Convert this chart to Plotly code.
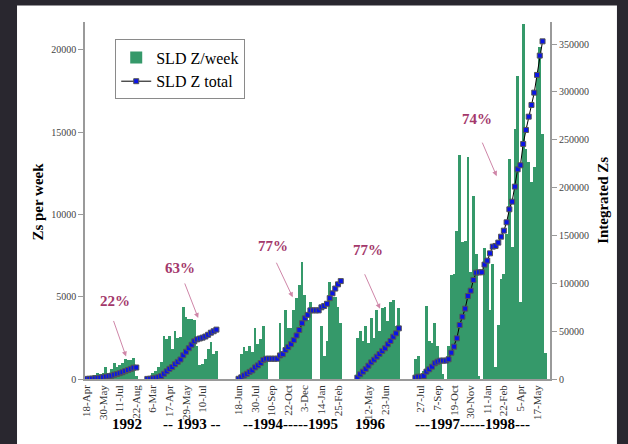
import pandas as pd
import plotly.graph_objects as go

# Observing seasons: first week of each run and the empty weeks left before it on the axis
season_start = ["1992-04-18", "1993-02-20", "1994-06-18", "1996-04-14", "1997-07-13"]
season_gap_weeks = [0, 3, 7, 5, 5]

# SLD Zs per week
zweek_1992 = [100, 150, 200, 250, 350, 300, 350, 750, 350, 600, 1000, 750, 850, 1000,
              1200, 1150, 1150, 1250, 200]
zweek_1993 = [100, 200, 350, 500, 750, 1050, 2600, 2450, 2600, 1850, 2900, 2500, 2550,
              4350, 3750, 3650, 3650, 3600, 2000, 850, 900, 1200, 1800, 2250, 1500, 1700]
zweek_1994 = [150, 1550, 1950, 1700, 2000, 1650, 3100, 2100, 2450, 3200, 1300, 0, 0, 0, 0,
              3400, 1400, 4200, 3100, 3100, 4200, 4900, 5700, 7100, 5100, 3600, 4700, 0, 0, 0,
              3200, 1400, 2300, 5900, 5000, 5000, 4400, 3400]
zweek_1996 = [2500, 2900, 2300, 3200, 2200, 3700, 2500, 4200, 2900, 4300, 4400, 3500, 4700,
              4800, 3200, 4300]
zweek_1997 = [1200, 1400, 250, 500, 4450, 2300, 2200, 3400, 2000, 1200, 300, 0,
              2000, 6300, 6400, 9000, 13600, 8300, 8400, 13500, 6500, 11150, 7600, 200,
              0, 7990, 7260, 4200, 7000, 700, 3300, 6100, 6400, 8800, 13400, 8000,
              15200, 18400, 4700, 21600, 14000, 13200, 12000, 12900, 18500, 20200, 14900, 1560]

# SLD Z running total within each season
ztot_1992 = [100, 250, 450, 700, 1050, 1400, 1750, 2500, 2850, 3450, 4450, 5200, 6050,
             7050, 8250, 9400, 10550, 11800, 12000]
ztot_1993 = [100, 300, 700, 1200, 1900, 3000, 5500, 8000, 10600, 12500, 15400, 17900, 20400,
             24800, 28500, 32200, 35800, 39400, 41400, 42300, 43200, 44400, 46200, 48400,
             49900, 51600]
ztot_1994 = [200, 1700, 3700, 5400, 7400, 9000, 12100, 14200, 16700, 19900, 21200, 21200,
             21200, 21200, 21200, 24600, 26000, 30200, 33300, 36400, 40600, 45500, 51200,
             58300, 63400, 67000, 71700, 71700, 71700, 71700, 74900, 76300, 78600, 84500,
             89500, 94500, 98900, 102300]
ztot_1996 = [1400, 4900, 7700, 10500, 13900, 17400, 20200, 23300, 26100, 29300, 32100,
             36200, 39700, 44200, 47700, 52900]
ztot_1997 = [1400, 2400, 2400, 3100, 7700, 10100, 12900, 16400, 18100, 19200, 19200, 19200,
             20600, 27500, 33800, 42500, 56400, 65100, 73500, 86700, 92300, 103500, 111100,
             111500, 111500, 119500, 123700, 131300, 138300, 139000, 142500, 148700, 155000,
             163700, 177300, 185300, 201000, 219100, 223300, 245600, 260200, 274100, 286300,
             299200, 317700, 337900, 352800]

tick_dates = ["1992-04-18", "1992-05-30", "1992-07-11", "1992-08-22",
              "1993-03-06", "1993-04-17", "1993-05-29", "1993-07-10",
              "1994-06-18", "1994-07-30", "1994-09-10", "1994-10-22", "1994-12-03",
              "1995-01-14", "1995-02-25",
              "1996-05-12", "1996-06-23",
              "1997-07-27", "1997-09-07", "1997-10-19", "1997-11-30",
              "1998-01-11", "1998-02-22", "1998-04-05", "1998-05-17"]
season_labels = ["1992", "-- 1993 --", "--1994-----1995", "1996", "---1997-----1998---"]
pct_labels = ["22%", "63%", "77%", "77%", "74%"]

weekly = [zweek_1992, zweek_1993, zweek_1994, zweek_1996, zweek_1997]
totals = [ztot_1992, ztot_1993, ztot_1994, ztot_1996, ztot_1997]

# Lay the seasons side by side on a compressed week axis
bar_x, bar_y, line_x, line_y, offsets = [], [], [], [], []
pos = 0
for gap, wk, tot in zip(season_gap_weeks, weekly, totals):
    pos += gap
    offsets.append(pos)
    for i, v in enumerate(wk):
        bar_x.append(pos + i)
        bar_y.append(v)
    for i, v in enumerate(tot):
        line_x.append(pos + i)
        line_y.append(v)
    line_x.append(None)
    line_y.append(None)
    pos += len(wk)

starts = pd.to_datetime(season_start)
tick_pos, tick_text = [], []
for d in pd.to_datetime(tick_dates):
    for s, off, wk in zip(starts, offsets, weekly):
        k = (d - s).days // 7
        if 0 <= k < len(wk):
            tick_pos.append(off + k)
            tick_text.append(f"{d.day}-{d:%b}")
            break

SERIF = "Liberation Serif"
AXIS_GREY = "#9a9a9a"
PCT_COLOR = "#a3386b"
ARROW_COLOR = "#cf86a8"

fig = go.Figure()
fig.add_trace(go.Bar(
    x=bar_x, y=bar_y, name="SLD Z/week",
    marker=dict(color="#35996a", line=dict(width=0)),
    yaxis="y",
))
fig.add_trace(go.Scatter(
    x=line_x, y=line_y, name="SLD Z total", mode="lines+markers",
    line=dict(color="black", width=1),
    marker=dict(symbol="square", size=5, color="#0a14e6",
                line=dict(color="#555555", width=1)),
    connectgaps=False, yaxis="y2",
))

annotations = []
# percentage call-outs with their arrows
pct_text_xy = [(10.3, 4730), (34.0, 6720), (67.3, 8060), (101.7, 7830), (141.3, 15800)]
pct_head_xy = [(14.3, 1370), (40.4, 3710), (74.6, 4970), (106.2, 4270), (148.4, 12330)]
pct_tail = [(-13, -37), (-14, -36), (-17, -36), (-16, -36), (-15, -35)]
for lab, (tx, ty), (hx, hy), (ax, ay) in zip(pct_labels, pct_text_xy, pct_head_xy, pct_tail):
    annotations.append(dict(x=tx, y=ty, xref="x", yref="y", text=f"<b>{lab}</b>",
                            showarrow=False, xanchor="center", yanchor="middle",
                            font=dict(family=SERIF, size=15, color=PCT_COLOR)))
    annotations.append(dict(x=hx, y=hy, xref="x", yref="y", text="", showarrow=True,
                            ax=ax, ay=ay, arrowhead=2, arrowsize=1, arrowwidth=1,
                            arrowcolor=ARROW_COLOR))

# season labels under the date ticks
season_x = [0.090, 0.230, 0.443, 0.615, 0.834]
for lab, sx in zip(season_labels, season_x):
    annotations.append(dict(x=sx, y=-0.127, xref="paper", yref="paper", text=f"<b>{lab}</b>",
                            showarrow=False, xanchor="center", yanchor="middle",
                            font=dict(family=SERIF, size=15, color="black")))

# axis titles
annotations.append(dict(x=-0.101, y=0.497, xref="paper", yref="paper",
                        text="<b>Zs per week</b>", textangle=-90, showarrow=False,
                        xanchor="center", yanchor="middle",
                        font=dict(family=SERIF, size=15, color="black")))
annotations.append(dict(x=1.114, y=0.499, xref="paper", yref="paper",
                        text="<b>Integrated Zs</b>", textangle=-90, showarrow=False,
                        xanchor="center", yanchor="middle",
                        font=dict(family=SERIF, size=15, color="black")))

fig.update_layout(
    width=628, height=444,
    margin=dict(l=85, r=78, t=22, b=65),
    paper_bgcolor="#29272f",
    plot_bgcolor="white",
    bargap=0,
    showlegend=True,
    legend=dict(x=0.065, y=0.951, xanchor="left", yanchor="top",
                bgcolor="white", bordercolor="#8a8a8a", borderwidth=1,
                font=dict(family=SERIF, size=16, color="black"),
                itemwidth=30, tracegroupgap=0),
    xaxis=dict(range=[-0.55, 167.7], tickmode="array", tickvals=tick_pos, ticktext=tick_text,
               tickangle=-90, ticks="", showgrid=False, zeroline=False,
               showline=True, linecolor=AXIS_GREY, linewidth=1.5,
               tickfont=dict(family=SERIF, size=11, color="#333333")),
    yaxis=dict(range=[0, 21700], tickmode="array", tickvals=[0, 5000, 10000, 15000, 20000],
               tickformat="d",
               ticks="outside", ticklen=5, tickcolor=AXIS_GREY, showgrid=False,
               zeroline=False, showline=True, linecolor=AXIS_GREY, linewidth=1.5,
               tickfont=dict(family=SERIF, size=10, color="#444444")),
    yaxis2=dict(range=[0, 373000], overlaying="y", side="right", tickmode="array",
                tickvals=[0, 50000, 100000, 150000, 200000, 250000, 300000, 350000],
                tickformat="d",
                ticks="outside", ticklen=5, tickcolor=AXIS_GREY, showgrid=False,
                zeroline=False, showline=True, linecolor=AXIS_GREY, linewidth=2,
                tickfont=dict(family=SERIF, size=10, color="#444444")),
    shapes=[dict(type="rect", xref="paper", yref="paper", x0=-0.1462, x1=1.144,
                 y0=-0.25, y1=1.046, fillcolor="white", line=dict(width=0), layer="below")],
    annotations=annotations,
)

fig.write_html("out.html")
